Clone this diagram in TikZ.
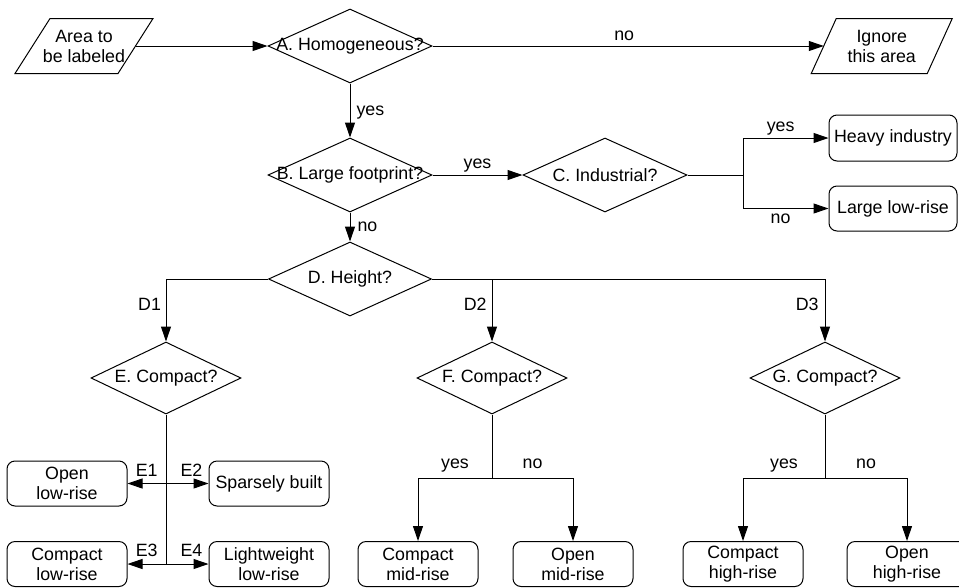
\documentclass[tikz,border=0pt]{standalone}
\usepackage{fontspec}
\setmainfont{Liberation Sans}
\usepackage{tikz}
\usetikzlibrary{positioning, arrows.meta, shapes.geometric, calc}

\begin{document}
\begin{tikzpicture}[x=1pt, y=-1pt, line width=1pt,
    font=\fontsize{17.8pt}{20pt}\selectfont,
    decision/.style={diamond, draw, inner sep=0pt, minimum width=164pt, minimum height=74pt},
    outcome/.style={draw, rounded corners=8pt, align=center, inner sep=0pt,
                    minimum width=120pt, minimum height=45pt},
    iobox/.style={align=center, inner sep=0pt, minimum height=55pt},
    arr/.style={-{Triangle[length=15pt, width=10pt]}},
    lbl/.style={inner sep=0pt, text depth=0pt}]
  \path[use as bounding box, fill=white] (0,0) rectangle (959,587);

  % input and discard
  \node[iobox, minimum width=102pt] (area) at (84,46) {Area to\\be labeled};
  \draw ($(area.west)+(-17.5,27.5)$) -- ($(area.west)+(17.5,-27.5)$)
     -- ($(area.east)+(17.5,-27.5)$) -- ($(area.east)+(-17.5,27.5)$) -- cycle;
  \node[iobox, minimum width=115pt] (ignore) at (881.75,46) {Ignore\\this area};
  \draw ($(ignore.west)+(-12.5,27.5)$) -- ($(ignore.west)+(12.5,-27.5)$)
     -- ($(ignore.east)+(12.5,-27.5)$) -- ($(ignore.east)+(-12.5,27.5)$) -- cycle;

  % decisions
  \node[decision, label={center:A. Homogeneous?}] (A) at (350,46) {};
  \node[decision, label={center:B. Large footprint?}] (B) at (350,175) {};
  \node[decision, label={center:C. Industrial?}] (C) at (605,175) {};
  \node[decision, minimum width=163pt, label={center:D. Height?}] (D) at (350,279) {};
  \node[decision, minimum width=150pt, minimum height=72pt, label={center:E. Compact?}] (E) at (166,378) {};
  \node[decision, minimum width=150pt, minimum height=72pt, label={center:F. Compact?}] (F) at (492,378) {};
  \node[decision, minimum width=150pt, minimum height=72pt, label={center:G. Compact?}] (G) at (825,378) {};

  % classes
  \node[outcome, minimum width=128pt, minimum height=46pt] (heavy) at (893,138) {Heavy industry};
  \node[outcome, minimum width=128pt] (largelow) at (893,208.5) {Large low-rise};
  \node[outcome] (openlow) at (67,483.5) {Open\\low-rise};
  \node[outcome] (sparse) at (269,483.5) {Sparsely built};
  \node[outcome] (compactlow) at (67,564) {Compact\\low-rise};
  \node[outcome] (lightlow) at (269,564) {Lightweight\\low-rise};
  \node[outcome] (compactmid) at (418,564) {Compact\\mid-rise};
  \node[outcome] (openmid) at (573,564) {Open\\mid-rise};
  \node[outcome] (compacthigh) at (743,564) {Compact\\high-rise};
  \node[outcome] (openhigh) at (907,564) {Open\\high-rise};

  \coordinate (Cj) at (743,175);
  \coordinate (Fj) at (492,478);
  \coordinate (Gj) at (825,478);

  \draw[arr] (area.east) -- (A.west);
  \draw[arr] (A.east) -- node[pos=0.49, above=5pt, lbl]{no} (ignore.west);
  \draw[arr] (A.south) -- node[right=6pt, lbl]{yes} (B.north);
  \draw[arr] (B.east) -- node[above=6pt, lbl]{yes} (C.west);
  \draw (C.east) -- (Cj);
  \draw[arr] (Cj) |- node[pos=0.72, above=6pt, lbl]{yes} (heavy.west);
  \draw[arr] (Cj) |- node[pos=0.72, below=5pt, lbl]{no} (largelow.west);
  \draw[arr] (B.south) -- node[right=7pt, lbl]{no} (D.north);

  % height branches
  \draw[arr] (D.west) -| node[pos=0.7, left=4.5pt, lbl]{D1} (E.north);
  \draw (D.east) -- (G.north |- D.east);
  \draw[arr] (F.north |- D.east) -- node[pos=0.4, left=5pt, lbl]{D2} (F.north);
  \draw[arr] (G.north |- D.east) -- node[pos=0.4, left=6pt, lbl]{D3} (G.north);

  % E split
  \draw (E.south) -- (E.south |- compactlow.east);
  \draw[arr] (E.south |- openlow.east) -- node[above=7pt, lbl]{E1} (openlow.east);
  \draw[arr] (E.south |- sparse.west) -- node[pos=0.6, above=7pt, lbl]{E2} (sparse.west);
  \draw[arr] (E.south |- compactlow.east) -- node[above=7pt, lbl]{E3} (compactlow.east);
  \draw[arr] (E.south |- lightlow.west) -- node[pos=0.6, above=7pt, lbl]{E4} (lightlow.west);

  % F and G split
  \draw (F.south) -- (Fj);
  \draw[arr] (Fj) -| node[pos=0.25, above=9pt, lbl]{yes} (compactmid.north);
  \draw[arr] (Fj) -| node[pos=0.25, above=9pt, lbl]{no} (openmid.north);
  \draw (G.south) -- (Gj);
  \draw[arr] (Gj) -| node[pos=0.25, above=9pt, lbl]{yes} (compacthigh.north);
  \draw[arr] (Gj) -| node[pos=0.25, above=9pt, lbl]{no} (openhigh.north);
\end{tikzpicture}
\end{document}
